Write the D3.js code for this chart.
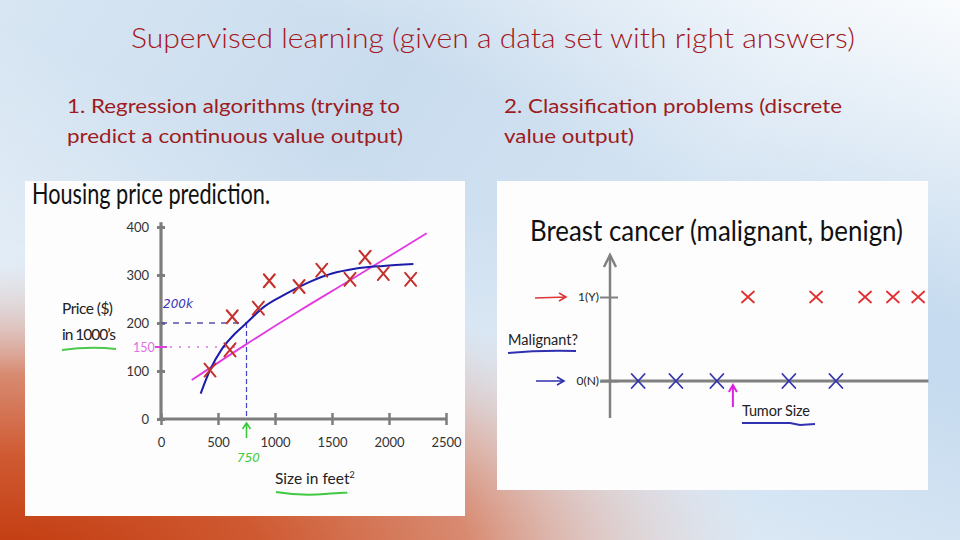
<!DOCTYPE html>
<html><head><meta charset="utf-8">
<script src="https://cdn.jsdelivr.net/npm/d3@7"></script>
<style>body{margin:0;background:#fff} svg{display:block}</style>
</head><body><svg id="c" width="960" height="540"></svg>
<script>
// ---------- data ----------
const slideTitle = "Supervised learning (given a data set with right answers)";
const leftCaption = ["1. Regression algorithms (trying to", "predict a continuous value output)"];
const rightCaption = ["2. Classification problems (discrete", "value output)"];

// Housing price prediction (size in ft², price in $1000s)
const housingSize  = [430, 605, 625, 854, 950, 1211, 1410, 1658, 1790, 1950, 2190];
const housingPrice = [102, 144, 213, 231, 288, 276, 310, 291, 337, 303, 291];
// hand-drawn quadratic fit (blue)
const curveFitSize  = [348, 430, 532, 650, 750, 900, 1100, 1300, 1500, 1700, 1950, 2214];
const curveFitPrice = [53, 102, 145, 178, 200, 233, 261, 285, 303, 313, 319, 323];
// hand-drawn straight fit (magenta)
const lineFitSize  = [269, 750, 1211, 1658, 2331];
const lineFitPrice = [81, 156, 225, 289, 387];
const housingXTicks = [0, 500, 1000, 1500, 2000, 2500];
const housingYTicks = [0, 100, 200, 300, 400];
const querySize = 750, predCurve = 200, predLine = 150;

// Breast cancer (tumor size, arbitrary units; 0 = benign, 1 = malignant)
const benignSize    = [0.88, 2.06, 3.34, 5.59, 7.06];
const malignantSize = [4.31, 6.44, 7.97, 8.84, 9.63];
const classTicks = [0, 1];
const classTickLabels = ["0(N)", "1(Y)"];
const thresholdSize = 3.84;

// ---------- drawing ----------
const svg = d3.select("#c");
const defs = svg.append("defs");
const FONT = "Lato, 'Open Sans', sans-serif";

const bg = defs.append("linearGradient").attr("id","bg").attr("x1",0).attr("y1",0).attr("x2",1).attr("y2",0.4);
[["0%","#d8e6f3"],["40%","#c9dcee"],["75%","#d3e3f2"],["100%","#c6dbef"]].forEach(s=>bg.append("stop").attr("offset",s[0]).attr("stop-color",s[1]));
const sh = defs.append("linearGradient").attr("id","shine").attr("x1",1).attr("y1",0).attr("x2",0.7).attr("y2",0.35);
sh.append("stop").attr("offset","0%").attr("stop-color","#fff").attr("stop-opacity",0.9);
sh.append("stop").attr("offset","100%").attr("stop-color","#fff").attr("stop-opacity",0);
const sh2 = defs.append("linearGradient").attr("id","shine2").attr("x1",0.45).attr("y1",1).attr("x2",0.75).attr("y2",0.55);
sh2.append("stop").attr("offset","0%").attr("stop-color","#fff").attr("stop-opacity",0.55);
sh2.append("stop").attr("offset","100%").attr("stop-color","#fff").attr("stop-opacity",0);
const og = defs.append("radialGradient").attr("id","orange");
[["0%","#c2380c",1],["35%","#cf5a32",1],["62%","#d7856a",0.95],["82%","#dbb8b0",0.55],["100%","#e0d0d0",0]]
  .forEach(s=>og.append("stop").attr("offset",s[0]).attr("stop-color",s[1]).attr("stop-opacity",s[2]));

svg.append("rect").attr("width",960).attr("height",540).attr("fill","url(#bg)");
svg.append("rect").attr("width",960).attr("height",540).attr("fill","url(#shine)");
svg.append("rect").attr("width",960).attr("height",540).attr("fill","url(#shine2)");
svg.append("ellipse").attr("cx",0).attr("cy",560).attr("rx",760).attr("ry",300).attr("fill","url(#orange)");

// slide text
svg.append("text").attr("x",131).attr("y",48).attr("textLength",724).attr("lengthAdjust","spacingAndGlyphs")
  .attr("font-family",FONT).attr("font-weight",300).attr("font-size",27).attr("fill","#a3161d").text(slideTitle);
leftCaption.forEach((t,i)=>svg.append("text").attr("x",67).attr("y",113+i*30).attr("textLength",i?336:333)
  .attr("lengthAdjust","spacingAndGlyphs").attr("font-family",FONT).attr("font-size",19.5).attr("fill","#9e1b20").text(t));
rightCaption.forEach((t,i)=>svg.append("text").attr("x",504).attr("y",113+i*30).attr("textLength",i?130:338)
  .attr("lengthAdjust","spacingAndGlyphs").attr("font-family",FONT).attr("font-size",19.5).attr("fill","#9e1b20").text(t));

// ---------- left panel ----------
svg.append("rect").attr("x",25).attr("y",181).attr("width",440).attr("height",335).attr("fill","#fdfdfd");
svg.append("text").attr("x",32).attr("y",204).attr("textLength",238).attr("lengthAdjust","spacingAndGlyphs")
  .attr("font-family",FONT).attr("font-size",28).attr("fill","#111").text("Housing price prediction.");

const xL = d3.scaleLinear().domain([0,2500]).range([161,446]);
const yL = d3.scaleLinear().domain([0,400]).range([419,227]);
const AX = "#7d7d7d";

const gL = svg.append("g");
// y axis
const yAx = gL.append("g").attr("transform",`translate(${xL(0)},0)`)
  .call(d3.axisLeft(yL).tickValues(housingYTicks).tickFormat(d3.format("d")).tickSize(0).tickPadding(12));
yAx.select(".domain").remove();
yAx.selectAll(".tick").append("line").attr("x1",-4).attr("x2",4).attr("stroke",AX).attr("stroke-width",3);
yAx.selectAll("text").attr("font-family",FONT).attr("font-size",13).attr("fill","#333");
gL.append("line").attr("x1",xL(0)).attr("x2",xL(0)).attr("y1",yL(0)+2).attr("y2",yL(410)).attr("stroke",AX).attr("stroke-width",3.2);
// x axis
const xAx = gL.append("g").attr("transform",`translate(0,${yL(0)})`)
  .call(d3.axisBottom(xL).tickValues(housingXTicks).tickFormat(d3.format("d")).tickSize(0).tickPadding(19));
xAx.select(".domain").remove();
xAx.selectAll(".tick").append("line").attr("y1",-6).attr("y2",6).attr("stroke",AX).attr("stroke-width",2.5);
xAx.selectAll("text").attr("font-family",FONT).attr("font-size",13).attr("fill","#333");
gL.append("line").attr("x1",xL(-15)).attr("x2",xL(2500)).attr("y1",yL(0)).attr("y2",yL(0)).attr("stroke",AX).attr("stroke-width",3.2);

// guide lines
gL.append("line").attr("x1",xL(0)).attr("x2",xL(querySize)).attr("y1",yL(predCurve)).attr("y2",yL(predCurve))
  .attr("stroke","#5050a8").attr("stroke-width",1.6).attr("stroke-dasharray","6,6");
gL.append("line").attr("x1",xL(querySize)).attr("x2",xL(querySize)).attr("y1",yL(predCurve)).attr("y2",yL(0))
  .attr("stroke","#4040c0").attr("stroke-width",1.2).attr("stroke-dasharray","5,3");
gL.append("line").attr("x1",xL(0)).attr("x2",xL(querySize)).attr("y1",yL(predLine)).attr("y2",yL(predLine))
  .attr("stroke","#e070e0").attr("stroke-width",1.3).attr("stroke-dasharray","2,7");
gL.append("line").attr("x1",xL(0)-6).attr("x2",xL(0)+6).attr("y1",yL(predLine)).attr("y2",yL(predLine))
  .attr("stroke","#e040e0").attr("stroke-width",2);

// fits
const lineGen = d3.line().x(d=>xL(d[0])).y(d=>yL(d[1])).curve(d3.curveMonotoneX);
gL.append("path").datum(lineFitSize.map((s,i)=>[s,lineFitPrice[i]])).attr("d",lineGen)
  .attr("fill","none").attr("stroke","#e23ae0").attr("stroke-width",1.8);
gL.append("path").datum(curveFitSize.map((s,i)=>[s,curveFitPrice[i]])).attr("d",lineGen)
  .attr("fill","none").attr("stroke","#1c1ca8").attr("stroke-width",2);

// data crosses
const cross = (w,h)=>`M${-w},${-h}L${w},${h}M${-w},${h}L${w},${-h}`;
gL.selectAll(".hx").data(housingSize.map((s,i)=>[s,housingPrice[i]])).join("path")
  .attr("transform",d=>`translate(${xL(d[0])},${yL(d[1])})`).attr("d",cross(5.5,6.5))
  .attr("fill","none").attr("stroke","#c4302c").attr("stroke-width",2).attr("stroke-linecap","round");

// annotations
gL.append("text").attr("x",163).attr("y",308).attr("font-family","'DejaVu Sans', sans-serif").attr("font-style","italic")
  .attr("font-size",12).attr("fill","#3434b8").text("200k");
gL.append("text").attr("x",133).attr("y",352).attr("font-family",FONT).attr("font-size",12.5).attr("fill","#e070e0").text("150");
gL.append("text").attr("x",237).attr("y",462).attr("font-family","'DejaVu Sans', sans-serif").attr("font-style","italic")
  .attr("font-size",12).attr("fill","#3ccc3c").text("750");
gL.append("path").attr("d",`M${xL(querySize)},438V424M${xL(querySize)-4},429L${xL(querySize)},423L${xL(querySize)+4},429`)
  .attr("fill","none").attr("stroke","#3cc83c").attr("stroke-width",1.6);

gL.append("text").attr("x",62).attr("y",314).attr("font-family",FONT).attr("font-size",15.5).attr("fill","#222").attr("textLength",51).text("Price ($)");
gL.append("text").attr("x",62).attr("y",340).attr("font-family",FONT).attr("font-size",15.5).attr("fill","#222").attr("textLength",54).text("in 1000’s");
gL.append("path").attr("d","M62,350Q90,346 116,349").attr("fill","none").attr("stroke","#4cc84c").attr("stroke-width",2);
const sz = gL.append("text").attr("x",275).attr("y",484).attr("font-family",FONT).attr("font-size",15.5).attr("fill","#222");
sz.append("tspan").text("Size in feet");
sz.append("tspan").attr("dy",-6).attr("font-size",9).text("2");
gL.append("path").attr("d","M276,492Q300,496 325,494T346,493").attr("fill","none").attr("stroke","#40c840").attr("stroke-width",2);

// ---------- right panel ----------
svg.append("rect").attr("x",497).attr("y",181).attr("width",431).attr("height",309).attr("fill","#fdfdfd");
svg.append("text").attr("x",530).attr("y",241).attr("textLength",373).attr("lengthAdjust","spacingAndGlyphs")
  .attr("font-family",FONT).attr("font-size",28).attr("fill","#111").text("Breast cancer (malignant, benign)");

const xR = d3.scaleLinear().domain([0,10]).range([610,930]);
const yR = d3.scaleLinear().domain([0,1]).range([381,297]);
const gR = svg.append("g");
const AX2 = "#808080";
gR.append("line").attr("x1",xR(0)).attr("x2",xR(0)).attr("y1",yR(-0.44)).attr("y2",yR(1.5)).attr("stroke",AX2).attr("stroke-width",2.5);
gR.append("path").attr("d",`M${xR(0)-6},${yR(1.5)+12}L${xR(0)},${yR(1.5)}L${xR(0)+6},${yR(1.5)+12}`)
  .attr("fill","none").attr("stroke",AX2).attr("stroke-width",2.5);
gR.append("line").attr("x1",xR(-0.3)).attr("x2",xR(9.95)).attr("y1",yR(0)).attr("y2",yR(0)).attr("stroke",AX2).attr("stroke-width",3);
const yAxR = gR.append("g").attr("transform",`translate(${xR(0)},0)`)
  .call(d3.axisLeft(yR).tickValues(classTicks).tickFormat((d,i)=>classTickLabels[i]).tickSize(0).tickPadding(11));
yAxR.select(".domain").remove();
yAxR.selectAll(".tick").append("line").attr("x1",-10).attr("x2",8).attr("stroke",AX2).attr("stroke-width",2);
yAxR.selectAll("text").attr("font-family",FONT).attr("font-size",12).attr("fill","#222");

gR.selectAll(".bx").data(benignSize).join("path")
  .attr("transform",d=>`translate(${xR(d)},${yR(0)})`).attr("d",cross(6.5,7))
  .attr("fill","none").attr("stroke","#3434b0").attr("stroke-width",1.8).attr("stroke-linecap","round");
gR.selectAll(".mx").data(malignantSize).join("path")
  .attr("transform",d=>`translate(${xR(d)},${yR(1)})`).attr("d",cross(6,5.5))
  .attr("fill","none").attr("stroke","#e03030").attr("stroke-width",1.8).attr("stroke-linecap","round");

// hand arrows
gR.append("path").attr("d",`M535,${yR(1)+1}L566,${yR(1)}M559,${yR(1)-4}L566,${yR(1)}L559,${yR(1)+4}`)
  .attr("fill","none").attr("stroke","#e03838").attr("stroke-width",1.6);
gR.append("path").attr("d",`M536,${yR(0)}L564,${yR(0)}M557,${yR(0)-4}L564,${yR(0)}L557,${yR(0)+4}`)
  .attr("fill","none").attr("stroke","#3030b0").attr("stroke-width",1.6);
gR.append("path").attr("d",`M${xR(thresholdSize)},${yR(0)+26}V${yR(0)+5}M${xR(thresholdSize)-4},${yR(0)+11}L${xR(thresholdSize)},${yR(0)+4}L${xR(thresholdSize)+4},${yR(0)+11}`)
  .attr("fill","none").attr("stroke","#e020e0").attr("stroke-width",2);

gR.append("text").attr("x",508).attr("y",345).attr("font-family",FONT).attr("font-size",14.5).attr("fill","#222").attr("textLength",70).text("Malignant?");
gR.append("path").attr("d","M508,353Q540,350 576,351").attr("fill","none").attr("stroke","#3030b0").attr("stroke-width",1.8);
gR.append("text").attr("x",742).attr("y",416).attr("font-family",FONT).attr("font-size",14.5).attr("fill","#222").attr("textLength",68).text("Tumor Size");
gR.append("path").attr("d","M742,423L790,423L800,425L815,424").attr("fill","none").attr("stroke","#3030b0").attr("stroke-width",1.8);
</script></body></html>
